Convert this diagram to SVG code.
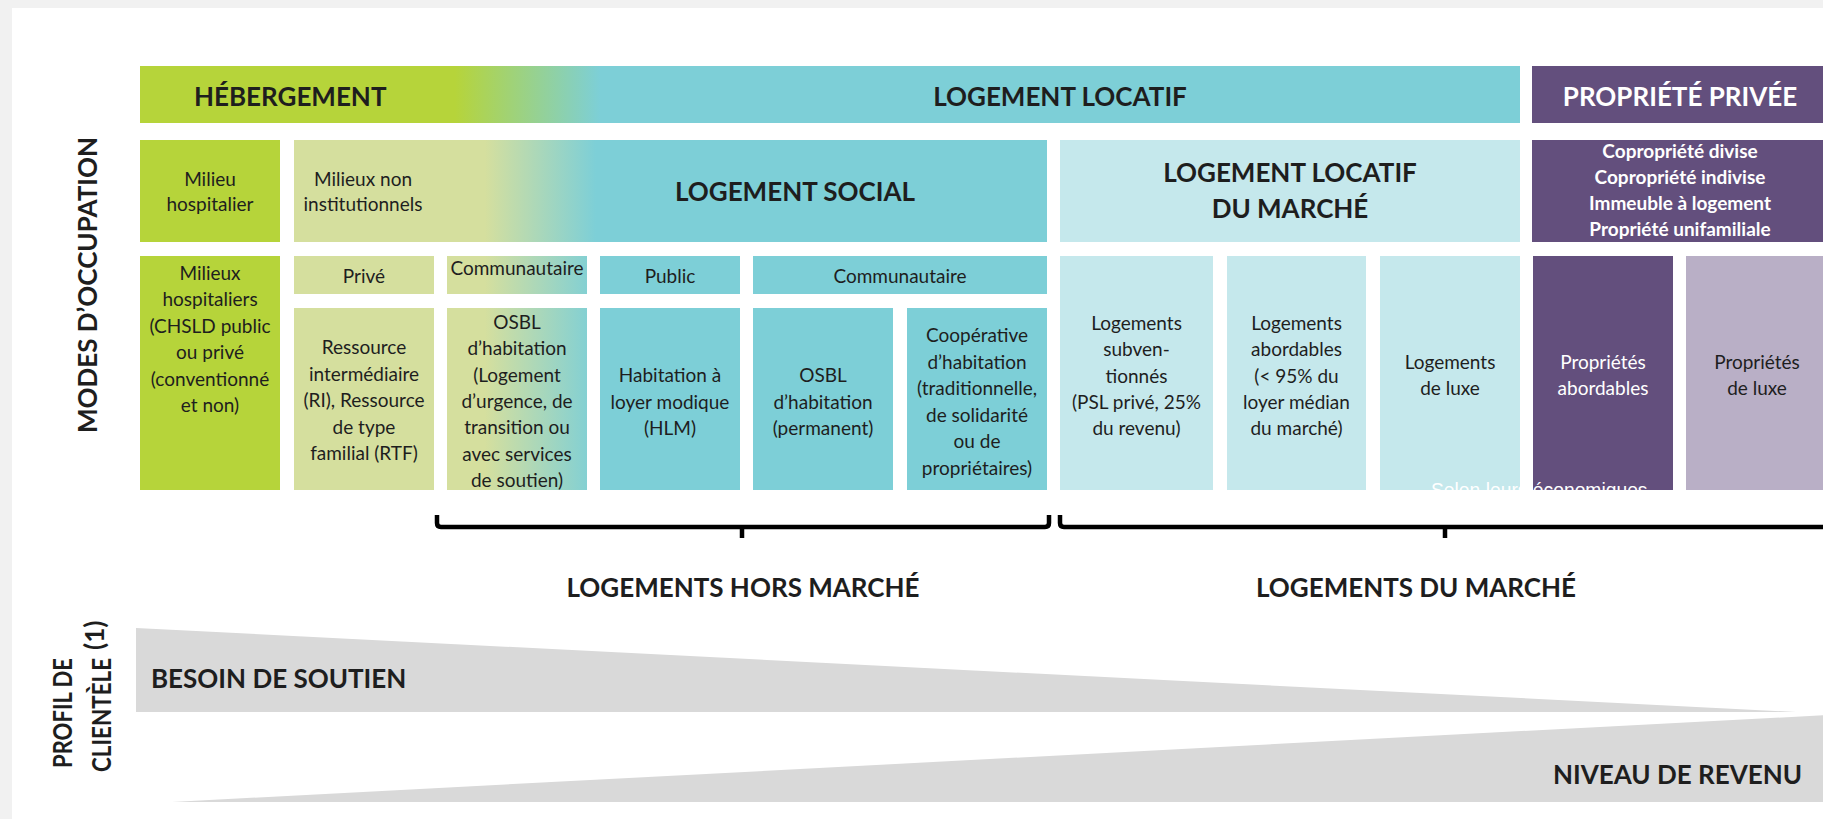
<svg xmlns="http://www.w3.org/2000/svg" width="1823" height="819" viewBox="0 0 1823 819">
<defs>
<linearGradient id="gTop" gradientUnits="userSpaceOnUse" x1="455" y1="0" x2="600" y2="0">
<stop offset="0" stop-color="#b6d43a"/><stop offset="1" stop-color="#7dcfd7"/>
</linearGradient>
<linearGradient id="gMid" gradientUnits="userSpaceOnUse" x1="485" y1="0" x2="596" y2="0">
<stop offset="0" stop-color="#d5df9e"/><stop offset="1" stop-color="#7dcfd7"/>
</linearGradient>
<style>
.t{font-family:Lato,"Open Sans",sans-serif;fill:#1e1e1e}
.h{font-weight:700;font-size:26px}
.s{font-weight:700;font-size:26px;text-anchor:middle}
.b{font-size:19px;text-anchor:middle}
.w{fill:#ffffff}
.green{fill:#b6d43a}
.teal{fill:#7dcfd7}
.pale{fill:#d5df9e}
.light{fill:#c5e8ec}
.purple{fill:#634f7d}
.lilac{fill:#b9afc6}
.grey{fill:#d9d9d9}
.br{fill:none;stroke:#000;stroke-width:4.5;stroke-linejoin:round}
</style>
</defs>
<rect x="0" y="0" width="1823" height="819" fill="#f1f1f1"/>
<rect x="12" y="8" width="1811" height="811" fill="#ffffff"/>

<g id="label-modes"><text class="t h" transform="translate(97,285) rotate(-90)" text-anchor="middle">MODES D’OCCUPATION</text></g>
<g id="label-profil">
<text class="t h" transform="translate(72,768) rotate(-90)" font-size="24.5" textLength="110" lengthAdjust="spacingAndGlyphs">PROFIL DE</text>
<text class="t h" transform="translate(111,772) rotate(-90)" font-size="24.5" textLength="114" lengthAdjust="spacingAndGlyphs">CLIENTÈLE</text>
<text class="t h" transform="translate(104,650) rotate(-90)" font-size="14">(1)</text>
</g>

<g id="row1-hebergement-locatif">
<rect x="140" y="66" width="1380" height="57" fill="url(#gTop)"/>
<text class="t h" x="194" y="106">HÉBERGEMENT</text>
<text class="t s" x="1060" y="106">LOGEMENT LOCATIF</text>
</g>
<g id="row1-propriete">
<rect class="purple" x="1532" y="66" width="296" height="57"/>
<text class="t s w" x="1680" y="106">PROPRIÉTÉ PRIVÉE</text>
</g>

<g id="milieu-hospitalier">
<rect class="green" x="140" y="140" width="140" height="102"/>
<text class="t b" x="210" y="186">Milieu<tspan x="210" dy="25">hospitalier</tspan></text>
</g>
<g id="logement-social">
<rect x="294" y="140" width="753" height="102" fill="url(#gMid)"/>
<text class="t b" x="363" y="186">Milieux non<tspan x="363" dy="25">institutionnels</tspan></text>
<text class="t s" x="795" y="201">LOGEMENT SOCIAL</text>
</g>
<g id="locatif-marche">
<rect class="light" x="1060" y="140" width="460" height="102"/>
<text class="t s" x="1290" y="182">LOGEMENT LOCATIF<tspan x="1290" dy="36">DU MARCHÉ</tspan></text>
</g>
<g id="propriete-types">
<rect class="purple" x="1532" y="140" width="296" height="102"/>
<text class="t b w" x="1680" y="158" font-weight="700" font-size="20.5">Copropriété divise<tspan x="1680" dy="26">Copropriété indivise</tspan><tspan x="1680" dy="26">Immeuble à logement</tspan><tspan x="1680" dy="26">Propriété unifamiliale</tspan></text>
</g>

<g id="milieux-hospitaliers">
<rect class="green" x="140" y="256" width="140" height="234"/>
<text class="t b" x="210" y="280">Milieux<tspan x="210" dy="26.4">hospitaliers</tspan><tspan x="210" dy="26.4">(CHSLD public</tspan><tspan x="210" dy="26.4">ou privé</tspan><tspan x="210" dy="26.4">(conventionné</tspan><tspan x="210" dy="26.4">et non)</tspan></text>
</g>
<g id="prive">
<rect class="pale" x="294" y="256" width="140" height="38"/>
<text class="t b" x="364" y="283">Privé</text>
</g>
<g id="ressource">
<rect class="pale" x="294" y="308" width="140" height="182"/>
<text class="t b" x="364" y="354">Ressource<tspan x="364" dy="26.5">intermédiaire</tspan><tspan x="364" dy="26.5">(RI), Ressource</tspan><tspan x="364" dy="26.5">de type</tspan><tspan x="364" dy="26.5">familial (RTF)</tspan></text>
</g>
<g id="communautaire-1">
<rect x="447" y="256" width="140" height="38" fill="url(#gMid)"/>
<text class="t b" x="517" y="275" font-size="17.5">Communautaire</text>
</g>
<g id="osbl-urgence">
<rect x="447" y="308" width="140" height="182" fill="url(#gMid)"/>
<text class="t b" x="517" y="329">OSBL<tspan x="517" dy="26.3">d’habitation</tspan><tspan x="517" dy="26.3">(Logement</tspan><tspan x="517" dy="26.3">d’urgence, de</tspan><tspan x="517" dy="26.3">transition ou</tspan><tspan x="517" dy="26.3">avec services</tspan><tspan x="517" dy="26.3">de soutien)</tspan></text>
</g>
<g id="public">
<rect class="teal" x="600" y="256" width="140" height="38"/>
<text class="t b" x="670" y="283">Public</text>
</g>
<g id="hlm">
<rect class="teal" x="600" y="308" width="140" height="182"/>
<text class="t b" x="670" y="382">Habitation à<tspan x="670" dy="26.5">loyer modique</tspan><tspan x="670" dy="26.5">(HLM)</tspan></text>
</g>
<g id="communautaire-2">
<rect class="teal" x="753" y="256" width="294" height="38"/>
<text class="t b" x="900" y="283">Communautaire</text>
</g>
<g id="osbl-permanent">
<rect class="teal" x="753" y="308" width="140" height="182"/>
<text class="t b" x="823" y="382">OSBL<tspan x="823" dy="26.5">d’habitation</tspan><tspan x="823" dy="26.5">(permanent)</tspan></text>
</g>
<g id="cooperative">
<rect class="teal" x="907" y="308" width="140" height="182"/>
<text class="t b" x="977" y="342">Coopérative<tspan x="977" dy="26.5">d’habitation</tspan><tspan x="977" dy="26.5">(traditionnelle,</tspan><tspan x="977" dy="26.5">de solidarité</tspan><tspan x="977" dy="26.5">ou de</tspan><tspan x="977" dy="26.5">propriétaires)</tspan></text>
</g>
<g id="logements-subventionnes">
<rect class="light" x="1060" y="256" width="153" height="234"/>
<text class="t b" x="1136.5" y="330">Logements<tspan x="1136.5" dy="26.3">subven-</tspan><tspan x="1136.5" dy="26.3">tionnés</tspan><tspan x="1136.5" dy="26.3">(PSL privé, 25%</tspan><tspan x="1136.5" dy="26.3">du revenu)</tspan></text>
</g>
<g id="logements-abordables">
<rect class="light" x="1227" y="256" width="139" height="234"/>
<text class="t b" x="1296.5" y="330">Logements<tspan x="1296.5" dy="26.3">abordables</tspan><tspan x="1296.5" dy="26.3">(&lt; 95% du</tspan><tspan x="1296.5" dy="26.3">loyer médian</tspan><tspan x="1296.5" dy="26.3">du marché)</tspan></text>
</g>
<g id="logements-luxe">
<rect class="light" x="1380" y="256" width="140" height="234"/>
<text class="t b" x="1450" y="369">Logements<tspan x="1450" dy="26.3">de luxe</tspan></text>
</g>
<g id="proprietes-abordables">
<rect class="purple" x="1533" y="256" width="140" height="234"/>
<text class="t b w" x="1603" y="369">Propriétés<tspan x="1603" dy="26.3">abordables</tspan></text>
</g>
<g id="proprietes-luxe">
<rect class="lilac" x="1686" y="256" width="142" height="234"/>
<text class="t b" x="1757" y="369">Propriétés<tspan x="1757" dy="26.3">de luxe</tspan></text>
</g>
<g id="note-overlay">
<text x="1431" y="497" font-family="Liberation Sans, Arial, sans-serif" font-size="19.3" fill="#ffffff">Selon leurs économiques</text>
</g>

<g id="connectors">
<path class="br" d="M437,515 V523 Q437,527 441,527 H1045 Q1049,527 1049,523 V515 M742,527 V538"/>
<path class="br" d="M1060,515 V523 Q1060,527 1064,527 H1826 Q1830,527 1830,523 V515 M1445,527 V538"/>
</g>

<g id="hors-marche"><text class="t s" x="743" y="597">LOGEMENTS HORS MARCHÉ</text></g>
<g id="du-marche"><text class="t s" x="1416" y="597">LOGEMENTS DU MARCHÉ</text></g>

<g id="besoin-soutien">
<polygon class="grey" points="136,628 1796,712 136,712"/>
<text class="t h" x="151" y="688" font-size="25.5">BESOIN DE SOUTIEN</text>
</g>
<g id="niveau-revenu">
<polygon class="grey" points="172,802 1828,715 1828,802"/>
<text class="t h" x="1802" y="784" text-anchor="end">NIVEAU DE REVENU</text>
</g>
</svg>
